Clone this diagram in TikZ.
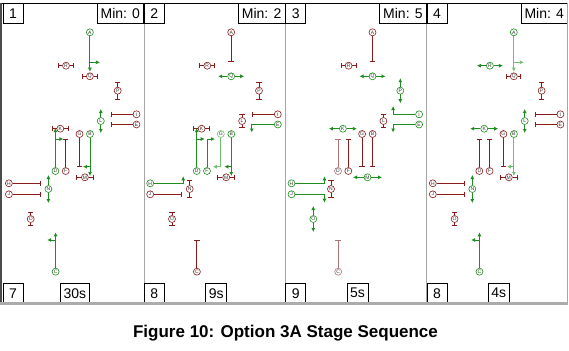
\documentclass[tikz,border=0pt]{standalone}
\usepackage{fontspec}
\setmainfont{Liberation Sans}
\usetikzlibrary{arrows.meta,calc}
\definecolor{dr}{HTML}{8B1A1A}
\definecolor{dg}{HTML}{1E8C1E}
\definecolor{lg}{HTML}{72BE72}
\definecolor{pk}{HTML}{B07474}
\tikzset{
 sig/.style={circle,fill=white,inner sep=0pt,minimum size=7pt,line width=0.6pt,font=\fontsize{5}{5}\selectfont,text=black!80},
 rl/.style={draw=dr,line width=0.9pt,-{Bar[width=5.5pt]}},
 gl/.style={draw=dg,line width=0.9pt,-{Latex[length=4pt,width=4pt]}},
 lgl/.style={draw=lg},
 pkl/.style={draw=pk},
 lbox/.style={draw=black,line width=0.7pt,fill=white,inner sep=0pt,font=\fontsize{14}{14}\selectfont},
}
\newcommand\pp{}
\newcommand\sgnode[4]{\node[sig,draw=#4] (\pp#1) at (#2,#3) {#1};}
\newcommand\nodesA[9]{%
 \sgnode{A}{87.2}{32.3}{#1}\sgnode{R}{63.3}{65.7}{#2}\sgnode{Q}{87.2}{76.3}{#3}%
 \sgnode{P}{115}{90.7}{#4}\sgnode{I}{133.8}{114.3}{#5}\sgnode{E}{133.8}{124.5}{#6}%
 \sgnode{L}{98.1}{121}{#7}\sgnode{K}{57.6}{128.7}{#8}\sgnode{G}{76.8}{134}{#9}}
\newcommand\nodesB[9]{%
 \sgnode{B}{87.3}{134}{#1}\sgnode{M}{82.2}{177.3}{#2}\sgnode{D}{52.7}{171}{#3}%
 \sgnode{F}{63}{171}{#4}\sgnode{H}{6.2}{183.3}{#5}\sgnode{J}{6.2}{194.3}{#6}%
 \sgnode{N}{45.7}{189}{#7}\sgnode{O}{28}{219}{#8}\sgnode{C}{52.9}{271.7}{#9}}
\newcommand\stopHH[2]{\draw[rl] (\pp#1) -- ($(\pp#1)+(-#2,0)$); \draw[rl] (\pp#1) -- ($(\pp#1)+(#2,0)$);}
\newcommand\stopVV[2]{\draw[rl] (\pp#1) -- ($(\pp#1)+(0,-#2)$); \draw[rl] (\pp#1) -- ($(\pp#1)+(0,#2)$);}
\newcommand\goHH[2]{\draw[gl] (\pp#1) -- ($(\pp#1)+(-#2,0)$); \draw[gl] (\pp#1) -- ($(\pp#1)+(#2,0)$);}
\newcommand\goVV[2]{\draw[gl] (\pp#1) -- ($(\pp#1)+(0,-#2)$); \draw[gl] (\pp#1) -- ($(\pp#1)+(0,#2)$);}
\newcommand\Agreen[1][]{\draw[gl,#1] (\pp A) -- ($(\pp A)+(0,39.4)$); \draw[gl,#1] ($(\pp A)+(0,30)$) -- ++(10,0);}
\newcommand\Ared{\draw[rl] (\pp A) -- ($(\pp A)+(0,30)$);}
\newcommand\Ired{\draw[rl] (\pp I) -- ($(\pp I)+(-25.8,0)$);}
\newcommand\Igreen{\draw[gl] (\pp I) -| ($(\pp I)+(-26,-8.3)$);}
\newcommand\Ered{\draw[rl] (\pp E) -- ($(\pp E)+(-25.8,0)$);}
\newcommand\Egreen{\draw[gl] (\pp E) -| ($(\pp E)+(-26,8)$);}
\newcommand\Gred{\draw[rl] (\pp G) -- ($(\pp G)+(0,32.5)$);}
\newcommand\Ggreen[1][]{\draw[gl,#1] (\pp G) |- ($(\pp G)+(-8,32.7)$);}
\newcommand\Bgreen[1][]{\draw[gl,#1] (\pp B) -- ($(\pp B)+(0,42)$); \draw[gl,#1] ($(\pp B)+(0,32.7)$) -- ++(-7,0);}
\newcommand\Bred{\draw[rl] (\pp B) -- ($(\pp B)+(0,32.5)$);}
\newcommand\Dgreen{\draw[gl] (\pp D) -- ($(\pp D)+(0,-43)$); \draw[gl] ($(\pp D)+(0,-32)$) -- ++(8,0);}
\newcommand\Dred[1][]{\draw[rl,#1] (\pp D) -- ($(\pp D)+(0,-32.5)$);}
\newcommand\Fred{\draw[rl] (\pp F) -- ($(\pp F)+(0,-32.5)$);}
\newcommand\Fgreen{\draw[gl] (\pp F) |- ($(\pp F)+(8,-32)$);}
\newcommand\Hred{\draw[rl] (\pp H) -- ($(\pp H)+(32,0)$);}
\newcommand\Hgreen{\draw[gl] (\pp H) -| ($(\pp H)+(33,-7)$);}
\newcommand\Jred{\draw[rl] (\pp J) -- ($(\pp J)+(32,0)$);}
\newcommand\Jgreen{\draw[gl] (\pp J) -| ($(\pp J)+(33,8.4)$);}
\newcommand\Cgreen{\draw[gl] (\pp C) -- ($(\pp C)+(0,-39.4)$); \draw[gl] ($(\pp C)+(0,-31.7)$) -- ++(-8.4,0);}
\newcommand\Cred[1][]{\draw[rl,#1] (\pp C) -- ($(\pp C)+(0,-31.7)$);}
\newcommand\pframe[4]{%
 \node[lbox,anchor=north west,minimum width=20pt,minimum height=19.4pt] (\pp tl) at (0,3.3) {#1};
 \node[lbox,anchor=north east,minimum width=46.7pt,minimum height=19.4pt] (\pp tr) at (141.3,3.3) {Min: #2};
 \node[lbox,anchor=north west,minimum width=20pt,minimum height=20.3pt] (\pp bl) at (0,282.7) {#3};
 \node[lbox,anchor=north,inner xsep=3pt,minimum height=20.3pt] (\pp bm) at (72.2,282.7) {#4};}
\begin{document}
\begin{tikzpicture}[x=1pt,y=-1pt]
\useasboundingbox[fill=white] (0,0) rectangle (569,350);
% panel dividers
\foreach \xx in {144,285.3,426.6} \draw[gray!70,line width=0.8pt] (\xx,3.3) -- (\xx,303);
% panel 1
\begin{scope}[xshift=2.7pt]
\def\pp{a}
\nodesA{dg}{dr}{dr}{dr}{dr}{dr}{dg}{dr}{dr}
\nodesB{dg}{dr}{dg}{dr}{dr}{dr}{dg}{dr}{dg}
\Agreen \stopHH{R}{8} \stopHH{Q}{7.5} \stopVV{P}{9} \Ired \Ered \goVV{L}{12} \stopHH{K}{8.5}
\Gred \Bgreen \stopHH{M}{9} \Dgreen \Fred \Hred \Jred \goVV{N}{14} \stopVV{O}{6.7} \Cgreen
\pframe{1}{0}{7}{30s}
\end{scope}
% panel 2
\begin{scope}[xshift=144pt]
\def\pp{b}
\nodesA{dr}{dr}{dg}{dr}{dr}{dg}{dr}{dr}{lg}
\nodesB{dg}{dr}{dg}{dg}{dg}{dr}{dr}{dr}{dr}
\Ared \stopHH{R}{8} \goHH{Q}{13} \stopVV{P}{9} \Ired \Egreen \stopVV{L}{7} \stopHH{K}{8.5}
\Ggreen[lgl] \Bgreen \stopHH{M}{9} \Dgreen \Fgreen \Hgreen \Jred \stopVV{N}{9} \stopVV{O}{6.7} \Cred
\pframe{2}{2}{8}{9s}
\end{scope}
% panel 3
\begin{scope}[xshift=285.3pt]
\def\pp{c}
\nodesA{dr}{dr}{dg}{dg}{dg}{dg}{dr}{dg}{dr}
\nodesB{dr}{dg}{pk}{dr}{dg}{dg}{dr}{dg}{pk}
\Ared \stopHH{R}{8} \goHH{Q}{13} \goVV{P}{12.5} \Igreen \Egreen \stopVV{L}{7} \goHH{K}{14}
\Gred \Bred \goHH{M}{14.5} \Dred[pkl] \Fred \Hgreen \Jgreen \stopVV{N}{9} \goVV{O}{13} \Cred[pkl]
\pframe{3}{5}{9}{5s}
\end{scope}
% panel 4
\begin{scope}[xshift=426.6pt]
\def\pp{d}
\nodesA{dg}{dg}{dr}{dr}{dr}{dr}{dg}{dg}{dr}
\nodesB{dg}{dr}{dr}{dr}{dr}{dr}{dg}{dr}{dg}
\Agreen[lgl] \goHH{R}{13} \stopHH{Q}{7.5} \stopVV{P}{9} \Ired \Ered \goVV{L}{12} \goHH{K}{14}
\Gred \Bgreen[lgl] \stopHH{M}{9} \Dred \Fred \Hred \Jred \goVV{N}{14} \stopVV{O}{6.7} \Cgreen
\pframe{4}{4}{8}{4s}
\end{scope}
% outer frame
\draw[black,line width=0.8pt] (1.3,3.3) -- (567.9,3.3);
\draw[gray!60!black,line width=2pt] (1.4,3.3) -- (1.4,304.8);
\draw[gray!70,line width=1.5pt] (567.5,3.3) -- (567.5,304.8);
\draw[gray!65,line width=3pt] (0.4,303.3) -- (568.3,303.3);
% caption
\node[font=\bfseries\fontsize{17}{17}\selectfont,anchor=base] (cap) at (285.5,337) {Figure 10: Option 3A Stage Sequence};
\end{tikzpicture}
\end{document}
